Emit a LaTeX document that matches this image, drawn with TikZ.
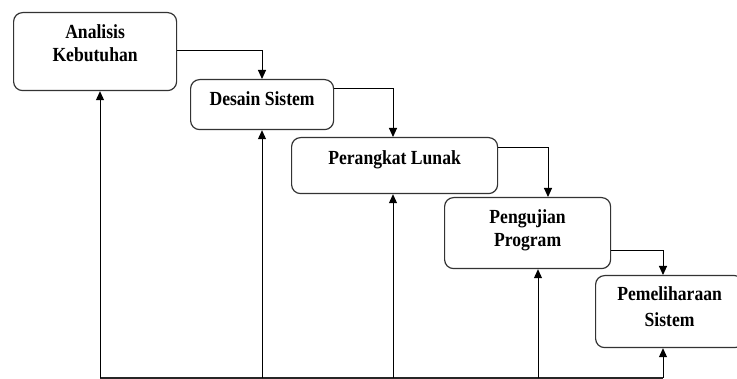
\documentclass[tikz,border=0pt]{standalone}
\usepackage{fontspec}
\setmainfont{Liberation Serif}[FakeStretch=0.88]
\usetikzlibrary{arrows.meta}
\begin{document}
\begin{tikzpicture}[x=1pt,y=-1pt,
  box/.style={draw=black!80, line width=1.2pt, rounded corners=9pt, anchor=north west, inner sep=0pt},
  lbl/.style={font=\bfseries\fontsize{20}{23}\selectfont, align=center, inner sep=0pt, anchor=north},
  conn/.style={draw=black, line width=1pt, -{Triangle[length=9pt,width=8pt]}}
]
\useasboundingbox (0,0) rectangle (737,379);
\node[box, minimum width=163pt, minimum height=78pt] (a) at (13,12) {};
\node[lbl] (ta) at ([yshift=-12pt]a.north) {Analisis\\Kebutuhan};
\node[box, minimum width=143pt, minimum height=50pt] (b) at (190,79) {};
\node[lbl] (tb) at ([yshift=-12.5pt]b.north) {Desain Sistem};
\node[box, minimum width=206pt, minimum height=56pt] (c) at (291,137) {};
\node[lbl] (tc) at ([yshift=-13pt]c.north) {Perangkat Lunak};
\node[box, minimum width=166pt, minimum height=71pt] (d) at (444,197) {};
\node[lbl] (td) at ([yshift=-12.5pt]d.north) {Pengujian\\Program};
\node[box, minimum width=148pt, minimum height=72pt] (e) at (595,275) {};
\node[lbl, font=\bfseries\fontsize{20}{26}\selectfont] (te) at ([yshift=-11.5pt]e.north) {Pemeliharaan\\Sistem};

\coordinate (f1) at (100,378);
\coordinate (f5) at (663,378);

\draw[conn] (a.east |- 0,51) -| (b.north -| 262,0);
\draw[conn] (b.east |- 0,89) -| (c.north -| 393,0);
\draw[conn] (c.east |- 0,148) -| (d.north -| 548,0);
\draw[conn] (d.east |- 0,251) -| (e.north -| 663,0);

\draw[line width=1.2pt, draw=black!85] (f1) -- (f5);
\draw[conn] (f1) -- (a.south -| f1);
\draw[conn] (262,378) -- (b.south -| 262,0);
\draw[conn] (393,378) -- (c.south -| 393,0);
\draw[conn] (538,378) -- (d.south -| 538,0);
\draw[conn] (f5) -- (e.south -| f5);
\end{tikzpicture}
\end{document}
